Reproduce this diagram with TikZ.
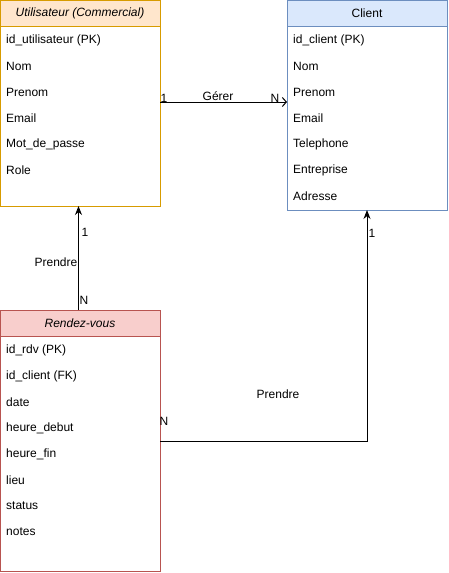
\documentclass[tikz,border=0pt]{standalone}
\usepackage{fontspec}
\setmainfont{Liberation Sans}
\usetikzlibrary{arrows.meta,calc}
\definecolor{orangeB}{HTML}{D79B00}
\definecolor{orangeF}{HTML}{FFE6CC}
\definecolor{blueB}{HTML}{6C8EBF}
\definecolor{blueF}{HTML}{DAE8FC}
\definecolor{redB}{HTML}{B85450}
\definecolor{redF}{HTML}{F8CECC}
\tikzset{
  boxbody/.style={draw=#1, line width=1pt, rectangle, anchor=north west, minimum width=160pt, inner sep=0pt, outer sep=0pt},
  boxhead/.style={draw=#1, line width=1pt, rectangle, anchor=north west, minimum width=160pt, minimum height=26pt, inner sep=0pt, outer sep=0pt},
  row/.style={anchor=west, inner sep=0pt, font=\fontsize{12}{14}\selectfont},
  lbl/.style={inner sep=0pt, font=\fontsize{12}{14}\selectfont},
  conn/.style={line width=1pt, draw=black},
  openarrow/.style={-{Straight Barb[length=4pt,width=9pt,line width=1pt]}},
  blockarrow/.style={-{Stealth[length=9pt,width=7pt]}}
}
\begin{document}
\begin{tikzpicture}[x=1pt,y=-1pt]
\useasboundingbox (0,0) rectangle (448,573);
% Utilisateur
\node[boxbody=orangeB, minimum height=206pt] (util) at (0,0) {};
\node[boxhead=orangeB, fill=orangeF] (utilh) at (0,0) {};
\node[lbl, font=\fontsize{12}{14}\selectfont\itshape] at (utilh.center) {Utilisateur (Commercial)};
\node[row] at (6,40) {id\_utilisateur (PK)};
\node[row] at (6,66) {Nom};
\node[row] at (6,92) {Prenom};
\node[row] at (6,118) {Email};
\node[row] at (6,144) {Mot\_de\_passe};
\node[row] at (6,170) {Role};
% Client
\node[boxbody=blueB, minimum height=210pt] (client) at (287,0) {};
\node[boxhead=blueB, fill=blueF] (clienth) at (287,0) {};
\node[lbl] at (clienth.center) {Client};
\node[row] at (293,40) {id\_client (PK)};
\node[row] at (293,66) {Nom};
\node[row] at (293,92) {Prenom};
\node[row] at (293,118) {Email};
\node[row] at (293,144) {Telephone};
\node[row] at (293,170) {Entreprise};
\node[row] at (293,196) {Adresse};
% Rendez-vous
\node[boxbody=redB, minimum height=261pt] (rdv) at (0,310) {};
\node[boxhead=redB, fill=redF] (rdvh) at (0,310) {};
\node[lbl, font=\fontsize{12}{14}\selectfont\itshape] at (rdvh.center) {Rendez-vous};
\node[row] at (6,350) {id\_rdv (PK)};
\node[row] at (6,376) {id\_client (FK)};
\node[row] at (6,402) {date};
\node[row] at (6,428) {heure\_debut};
\node[row] at (6,454) {heure\_fin};
\node[row] at (6,480) {lieu};
\node[row] at (6,506) {status};
\node[row] at (6,532) {notes};
% connectors
\coordinate (gy) at (0,102);
\draw[conn, openarrow] (util.east |- gy) -- (client.west |- gy);
\node[lbl] at (218,96) {Gérer};
\node[lbl] at (164,98) {1};
\node[lbl] at (275,98) {N};

\coordinate (px) at (78.5,0);
\draw[conn, blockarrow] (rdvh.north -| px) -- (util.south -| px);
\node[lbl] at (85,232) {1};
\node[lbl] at (56,262) {Prendre};
\node[lbl] at (84,300) {N};

\coordinate (qy) at (0,441);
\coordinate (qx) at (367,0);
\draw[conn, blockarrow] (rdv.east |- qy) -| (client.south -| qx);
\node[lbl] at (372,233) {1};
\node[lbl] at (278,394) {Prendre};
\node[lbl] at (164,421) {N};
\end{tikzpicture}
\end{document}
